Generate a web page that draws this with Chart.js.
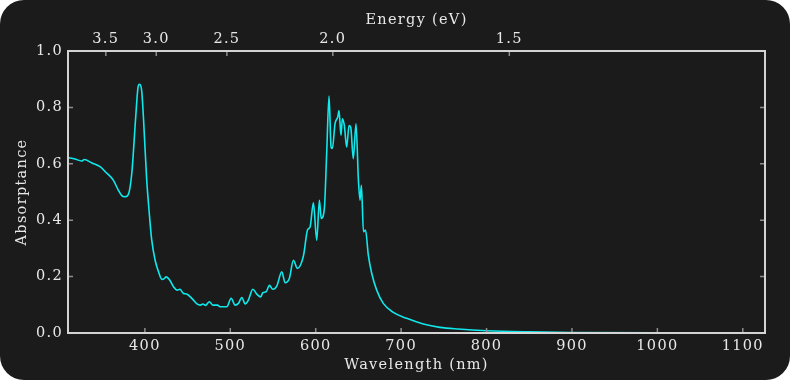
<!DOCTYPE html>
<html>
<head>
<meta charset="utf-8">
<script src="https://cdn.jsdelivr.net/npm/chart.js@4"></script>
<style>
  html, body { margin: 0; padding: 0; background: #ffffff; }
  #card { width: 790px; height: 380px; border-radius: 24px; background: #1b1b1b; overflow: hidden; position: relative; }
  canvas { display: block; }
</style>
</head>
<body>
<div id="card"><canvas id="c" width="790" height="380"></canvas></div>
<script>
// ---- data ----
const wavelengthNm = [310,318,326,329,338,348,354,363,369,373,376,379,382,385,389,392,393.5,396,398.5,402,405,408,412,416,420,422,425,429,433.5,437.5,441,445,449,455,461,465,468,471,475.5,479.5,485,488,496,501,505.7,509.5,513.5,517.4,521.2,526.4,531,535.7,538,542,545.8,549.8,554.4,560.3,564.2,569.2,573.9,578.5,585.6,590.5,593.4,597.3,601.2,604.3,606.5,610.1,612.9,615.6,618,619.5,622.6,625.8,627.3,629.6,631.2,633.5,636.3,639,641,644,647.2,649.9,651.9,653.5,655.9,658.3,661.6,665.6,671.4,679.1,690.8,706.5,725.9,745.4,766.8,800,850,900,1000,1126];
const absorptance = [0.622,0.617,0.610,0.615,0.603,0.589,0.571,0.542,0.506,0.487,0.483,0.485,0.506,0.577,0.754,0.872,0.882,0.866,0.754,0.550,0.430,0.330,0.258,0.217,0.190,0.191,0.199,0.188,0.164,0.152,0.155,0.141,0.138,0.123,0.103,0.099,0.103,0.098,0.111,0.099,0.099,0.093,0.093,0.123,0.099,0.105,0.126,0.103,0.117,0.155,0.138,0.128,0.143,0.146,0.169,0.155,0.166,0.217,0.178,0.194,0.258,0.229,0.273,0.366,0.376,0.462,0.329,0.471,0.406,0.441,0.642,0.840,0.659,0.654,0.742,0.766,0.789,0.701,0.760,0.736,0.659,0.736,0.730,0.618,0.742,0.548,0.471,0.524,0.359,0.365,0.276,0.211,0.152,0.105,0.073,0.052,0.032,0.020,0.014,0.008,0.004,0.002,0.001,0.001];
const wavelengthTicks = [400,500,600,700,800,900,1000,1100];
const energyTicksEv = [3.5,3.0,2.5,2.0,1.5];
const absorptanceTicks = [0.0,0.2,0.4,0.6,0.8,1.0];
const xRange = [310,1126];

const TEXT = '#e8e8e8';
const FONT = {family: 'DejaVu Serif', size: 14.5};
const SPACING = '1.3px';

const points = wavelengthNm.map((w,i)=>({x:w, y:absorptance[i]}));

const spacingPlugin = {
  id: 'spacing',
  beforeUpdate(chart){ chart.ctx.letterSpacing = SPACING; },
  beforeLayout(chart){ chart.ctx.letterSpacing = SPACING; },
  beforeDraw(chart){ chart.ctx.letterSpacing = SPACING; }
};

const framePlugin = {
  id: 'frame',
  afterDatasetsDraw(chart){
    const {ctx, chartArea:a, scales} = chart;
    ctx.save();
    ctx.strokeStyle = '#8c8c8c';
    ctx.lineWidth = 1.5;
    const L = 5;
    ctx.beginPath();
    scales.x.ticks.forEach(t=>{ const p = scales.x.getPixelForValue(t.value); ctx.moveTo(p, a.bottom); ctx.lineTo(p, a.bottom-L); });
    scales.x2.ticks.forEach(t=>{ const p = scales.x2.getPixelForValue(t.value); ctx.moveTo(p, a.top); ctx.lineTo(p, a.top+L); });
    scales.y.ticks.forEach(t=>{ const p = scales.y.getPixelForValue(t.value); ctx.moveTo(a.left, p); ctx.lineTo(a.left+L, p); ctx.moveTo(a.right, p); ctx.lineTo(a.right-L, p); });
    ctx.stroke();
    ctx.strokeStyle = '#d4d4d4';
    ctx.lineWidth = 2;
    ctx.strokeRect(a.left, a.top, a.right-a.left, a.bottom-a.top);
    ctx.restore();
  }
};

new Chart(document.getElementById('c'), {
  type: 'line',
  data: { datasets: [{
    data: points,
    borderColor: '#10e8ec',
    borderWidth: 1.6,
    pointRadius: 0,
    fill: false,
    cubicInterpolationMode: 'monotone'
  }]},
  options: {
    responsive: false,
    animation: false,
    devicePixelRatio: 1,
    layout: { padding: { left: 0, right: 25, top: 0, bottom: 0 } },
    plugins: { legend: {display:false}, tooltip: {enabled:false} },
    scales: {
      x: {
        type: 'linear', position: 'bottom', min: xRange[0], max: xRange[1],
        afterBuildTicks: s => { s.ticks = wavelengthTicks.map(v=>({value:v})); },
        afterFit: s => { s.height = 47; },
        grid: { display: false, drawTicks: false },
        border: { display: false },
        ticks: { color: TEXT, font: FONT, padding: 5, maxRotation: 0, callback: v => String(v) },
        title: { display: true, text: 'Wavelength (nm)', color: TEXT, font: FONT, padding: {top: 0, bottom: 6} }
      },
      x2: {
        type: 'linear', position: 'top', min: xRange[0], max: xRange[1],
        afterBuildTicks: s => { s.ticks = energyTicksEv.map(e=>({value: 1240/e})); },
        afterFit: s => { s.height = 51; },
        grid: { display: false, drawTicks: false },
        border: { display: false },
        ticks: { color: TEXT, font: FONT, padding: 3, maxRotation: 0, autoSkip: false,
          callback: v => (1240/v).toFixed(1) },
        title: { display: true, text: 'Energy (eV)', color: TEXT, font: FONT, padding: {top: 12, bottom: 0} }
      },
      y: {
        type: 'linear', position: 'left', min: 0, max: 1,
        afterBuildTicks: s => { s.ticks = absorptanceTicks.map(v=>({value:v})); },
        afterFit: s => { s.width = 68; },
        grid: { display: false, drawTicks: false },
        border: { display: false },
        ticks: { color: TEXT, font: FONT, padding: 5, callback: v => v.toFixed(1) },
        title: { display: true, text: 'Absorptance', color: TEXT, font: FONT, padding: {top: 14, bottom: 0} }
      }
    }
  },
  plugins: [spacingPlugin, framePlugin]
});
</script>
</body>
</html>
